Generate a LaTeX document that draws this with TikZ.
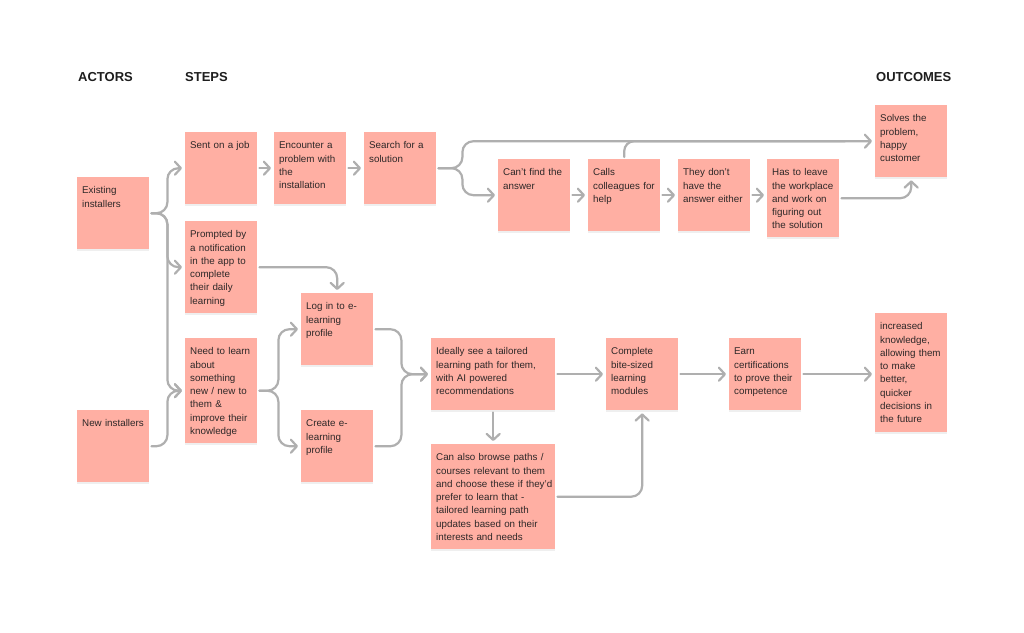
\documentclass[tikz,border=0pt]{standalone}
\usepackage{fontspec}
\setmainfont{Liberation Sans}
\usetikzlibrary{arrows.meta,shadows}

\definecolor{notefill}{HTML}{FFAFA3}
\definecolor{notetext}{HTML}{2E2828}
\definecolor{flowgray}{HTML}{AFAFAF}
\definecolor{headtext}{HTML}{1E1E1E}

\tikzset{
  note/.style={fill=notefill, text=notetext, anchor=north west,
    inner xsep=5pt, inner ysep=0pt, text width=62pt, align=left,
    text height=16.5pt, text depth=#1,
    font=\fontsize{9.8}{13.3}\selectfont,
    drop shadow={opacity=0.12, shadow xshift=0pt, shadow yshift=-1.5pt}},
  note/.default=55.5pt,
  wide/.style={text width=114pt},
  flow/.style={draw=flowgray, line width=2.2pt, line cap=round,
    -{Straight Barb[length=6pt,width=13pt,round]},
    rounded corners=11pt, shorten <=2pt, shorten >=3pt},
  joined/.style={draw=flowgray, line width=2.2pt, line cap=round, rounded corners=10pt, shorten <=2pt},
  heading/.style={anchor=base west, inner sep=0pt, text=headtext,
    font=\fontsize{13}{15}\selectfont\bfseries},
}

\begin{document}
\begin{tikzpicture}[x=1pt, y=-1pt]
    \useasboundingbox[fill=white] (0,0) rectangle (1024,632);

    % column titles
    \node[heading] (actors) at (78,81.7) {ACTORS};
    \node[heading] (steps) at (185,81.7) {STEPS};
    \node[heading] (outcomes) at (876,81.7) {OUTCOMES};

    % actors
    \node[note] (existing) at (77,177) {Existing\\installers};
    \node[note] (newinst) at (77,410) {New installers};

    % on the job
    \node[note] (sent) at (185,132) {Sent on a job};
    \node[note] (encounter) at (274,132) {Encounter a\\problem with\\the\\installation};
    \node[note] (search) at (364,132) {Search for a\\solution};
    \node[note] (cantfind) at (498,159) {Can't find the\\answer};
    \node[note] (calls) at (588,159) {Calls\\colleagues for\\help};
    \node[note] (dontknow) at (678,159) {They don't\\have the\\answer either};
    \node[note=61.5pt] (leave) at (767,159) {Has to leave\\the workplace\\and work on\\figuring out\\the solution};
    \node[note] (solves) at (875,105) {Solves the\\problem,\\happy\\customer};

    % learning
    \node[note=75.5pt] (prompted) at (185,221) {Prompted by\\a notification\\in the app to\\complete\\their daily\\learning};
    \node[note=88.5pt] (needlearn) at (185,338) {Need to learn\\about\\something\\new / new to\\them \&\\improve their\\knowledge};
    \node[note] (login) at (301,293) {Log in to e-\\learning\\profile};
    \node[note] (create) at (301,410) {Create e-\\learning\\profile};
    \node[note, wide] (tailored) at (431,338) {Ideally see a tailored\\learning path for them,\\with AI powered\\recommendations};
    \node[note=88.5pt, wide] (browse) at (431,444) {Can also browse paths /\\courses relevant to them\\\mbox{and choose these if they'd}\\prefer to learn that -\\tailored learning path\\updates based on their\\interests and needs};
    \node[note] (modules) at (606,338) {Complete\\bite-sized\\learning\\modules};
    \node[note] (earn) at (729,338) {Earn\\certifications\\to prove their\\competence};
    \node[note=102.5pt] (knowledge) at (875,313) {increased\\knowledge,\\allowing them\\to make\\better,\\quicker\\decisions in\\the future};

    % connectors
    \draw[flow] (existing.east) -- ++(18,0) |- (sent.west);
    \draw[flow] (existing.east) -- ++(18,0) |- (prompted.west);
    \draw[flow] (existing.east) -- ++(18,0) |- (needlearn.west);
    \draw[flow] (newinst.east) -- ++(18,0) |- (needlearn.west);
    \draw[flow] (sent.east) -- (encounter.west);
    \draw[flow] (encounter.east) -- (search.west);
    \draw[flow] (search.east) -- ++(26,0) |- (solves.west);
    \draw[flow] (search.east) -- ++(26,0) |- (cantfind.west);
    \draw[flow] (cantfind.east) -- (calls.west);
    \draw[flow] (calls.east) -- (dontknow.west);
    \draw[flow] (dontknow.east) -- (dontknow.east -| leave.west);
    \draw[joined] (calls.north) |- ([xshift=-30pt]solves.west);
    \draw[flow] (leave.east) -| (solves.south);
    \draw[flow] (prompted.east) -| (login.north);
    \draw[flow] (needlearn.east) -- ++(21,0) |- (login.west);
    \draw[flow] (needlearn.east) -- ++(21,0) |- (create.west);
    \draw[flow] (login.east) -- ++(28,0) |- (tailored.west);
    \draw[flow] (create.east) -- ++(28,0) |- (tailored.west);
    \draw[flow] (tailored.east) -- (modules.west);
    \draw[flow] (tailored.south) -- (browse.north);
    \draw[flow] (browse.east) -| (modules.south);
    \draw[flow] (modules.east) -- (earn.west);
    \draw[flow] (earn.east) -- (earn.east -| knowledge.west);
\end{tikzpicture}
\end{document}
